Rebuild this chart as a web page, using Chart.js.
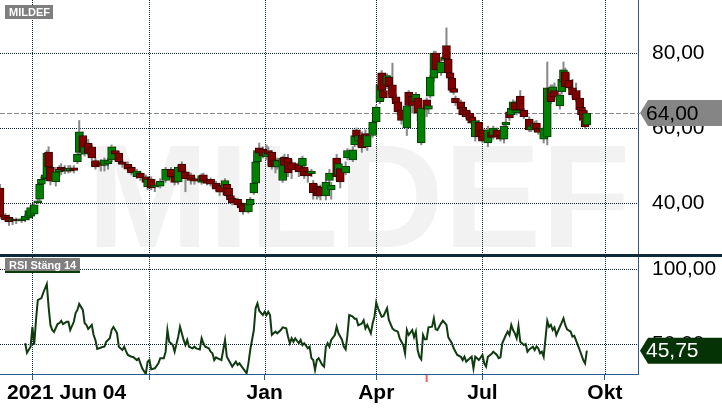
<!DOCTYPE html>
<html>
<head>
<meta charset="utf-8">
<script src="https://cdn.jsdelivr.net/npm/chart.js@4.4.1/dist/chart.umd.min.js"></script>
<style>
  html, body { margin: 0; padding: 0; background: #fff; }
  #wrap { position: relative; width: 722px; height: 410px; overflow: hidden; background: #fff; }
  #priceChart { position: absolute; left: 0; top: 0; }
  #sep { position: absolute; left: 0; top: 254px; width: 722px; height: 3px; background: #0b2a3a; }
  #rsiChart { position: absolute; left: 0; top: 257px; }
</style>
</head>
<body>
<div id="wrap">
  <canvas id="priceChart" width="722" height="254"></canvas>
  <div id="sep"></div>
  <canvas id="rsiChart" width="722" height="153"></canvas>
</div>
<script>
// Kurs (dagliga candles), x = handelsdag sedan 2021-06-04
const ticker = 'MILDEF';
const startLabel = '2021 Jun 04';
const candleIdx = [0,3,5,7,9,12,14,16,17,19,21,22,23,25,26,27,28,31,33,34,36,38,39,41,43,44,46,47,49,51,53,56,58,60,62,64,66,68,71,73,76,78,81,82,84,86,89,92,95,97,99,101,103,106,108,112,113,115,117,120,122,125,126,127,128,129,132,134,135,138,139,141,142,143,144,146,148,149,151,153,154,157,158,160,162,166,168,169,171,173,174,176,177,178,181,183,184,187,188,189,192,193,196,197,198,199,201,203,204,207,209,211,212,213,215,216,218,220,221,223,226,227,229,231,232,234,237,238,239,241,242,245,247,248,249,250,251,252,253,256,257,259,261,262,264,266,268,271,273,274,276,278,280,281,283,284,285,286,287,289,291,294,295,297,298,299,302,304,306,307,308,311,312,313,314,316,318,320,322,323,324,325,326];
const openV = [44,36.8,36.2,35.2,35.6,35.2,35.5,36,36.5,37,40,41,45,46.5,46.7,53.6,49.6,45.6,48.3,49.5,49.3,48.5,48.6,49.4,51,53.5,58,53,56,55,51.3,50.8,50,50.5,51.5,54,53.3,51,50.3,49.5,47,48,47,44.3,46.4,44.2,44.5,46,49,47,45.6,50.4,48.3,47.5,46.5,45.5,47.5,46.2,46.3,45.3,44.8,44,45,44,42,41.3,41,40,39.5,37.6,39.5,42.7,45.3,51,54.7,54.3,52.3,54,53.6,51.5,49.6,46,52.2,52,50.8,50.5,49.9,49.6,48.5,47.8,45.3,44.5,44,44.2,41.9,46,43.5,52,47.5,49.2,48,52,51.5,55.5,59.5,56.5,58,58.5,55,58,61.6,67,74.7,70,71.5,73.5,71.5,68.3,67,64.8,60,69.6,68.5,67,68,56,67.5,65,68.5,73.3,80,74.7,78,82,78.4,74.7,73.3,70.5,68,67,65.5,64.8,64,63,57.6,61.5,59.5,56,59,58,59.5,58,57,60.8,64.3,63.5,64.8,66.8,64,68.5,64.8,62.4,59.5,60,61.3,60,57,57.6,70.7,69.3,70,65.9,69.6,72.3,75,72.8,70.7,70,68,65.5,64.8,62,60.8];
const highV = [45,37.2,36.8,36,36,36.2,37,38.5,39.5,40,41,45.5,47,49,54,55,50.5,49.5,50,50.5,50,50,50,50,54,62,59,56,57,55.5,52,51.5,52,52,55.5,55,53.8,51.5,51,50,49,48.5,47.5,47,47,45.3,46.5,49.5,49.5,47.5,50,51,48.8,48,47,47.8,48,46.5,46.7,45.8,45.2,46.5,45.5,44.5,42.3,41.7,41.3,40.3,40,40.5,41.5,45.8,51.5,54.5,56,55,55.5,55,54,52,52,52.5,53,53,51.5,51,52.5,50,49,49,46,45,44.5,44.8,46,49,45.5,53,52,50,51,54.5,55,58.5,60,59,59,59.5,58.5,62,66,72,75.3,70.5,74.5,74,77.3,69,67.5,65.3,66.5,70,69,69.5,68.5,66,68,66.5,74,80.5,80.5,78.5,79.5,86.7,79,75.2,73.8,71,68.5,67.5,66,65,64.5,63.5,62.5,62,60,60.5,59.5,60.5,60,58.5,61,62.5,65,65.8,67.5,67.2,65.2,70,65.2,63,61,61.8,62,60.3,60.5,77.6,71.5,71.5,72,69.2,75.5,77.6,76,74.5,73,72,70,66,65.3,62.5,64.5];
const lowV = [35.8,35,34,34.2,34.5,34.8,35,35.5,36,36.5,39.8,40.5,44.5,46,46,49,44.8,44.5,47,47.5,47.8,48,48.2,48,50.5,53,53,52.5,52.8,51.5,49,48.5,48.5,49,51,52.5,50.5,49.5,48.5,47.5,46.5,46,45,43.5,43.5,43,44,45.5,46.5,44.8,45,47.8,43,45,45,45,45.5,44.8,44.5,43.3,42,42,41.5,41.5,40,39.5,39,38.3,37,37.3,39,42.3,45,50.5,53,52,51.5,50,49,48,49,45.5,49.5,47,46.5,47,49,46.5,45.5,47,41,41,41.5,40.8,40.8,45.5,41,46,47,44,47.5,51.5,51,55,55.5,55,53.5,55.5,54,57.5,61,66.5,68,67.5,70.5,69,67.5,65.5,63.5,61,58,65.5,64,66,62,55.5,63,64,68,72.5,74.5,74,77.5,77.5,74,72.8,69.5,69,66,64.5,63,62.5,61.5,60.8,56.5,57,56,55,56.5,57,57,56.5,56,60.5,62,63,64,64.5,63.5,64.3,62.5,59,59,59,59,58.3,56,55.5,66.5,68.5,67.5,65,69,72,70,70.2,68,67,64,63,61.5,59.8,60.5];
const closeV = [36.3,35.5,35,35.7,35.2,35.8,36.5,38,38.8,39.5,40.6,45,46.3,47.5,53.3,49.6,45.8,48.3,49,48.8,48.5,49.2,49.3,48.7,53,59,53.6,55,53.3,52,49.6,50,51.5,51.3,55,53,51,50.3,49,48,48.5,46.7,45.5,46.4,44,44.8,45.8,49,47,45.5,49.6,48.3,46.5,46,45.8,47.3,45.8,45.2,45,43.7,42.9,46,42,41.9,40.8,40,39.5,38.7,37.6,40,41,45.3,51,54,53.3,52.5,53.6,53,49.6,49.6,51.3,52,50,48,48.8,48.3,52,47.2,47.2,48.5,42.7,41.9,42.5,41.9,45.6,48,44.8,47,50.5,45.6,49.8,54,54.2,58,57.6,58,54.7,57,58,61.6,65.6,71.5,70,68,74,71,68,66.5,64.3,62,65.9,66,66,69,64,65.3,65,66,73.6,80,75.5,77.6,79,78.4,74.7,73.3,70,69.5,66.7,65,63.5,63,62,61.3,62,57.6,56.5,59.5,57.5,60,57.6,57,60.5,61.6,62.7,65.3,67,64.8,64.8,64.8,63,59.5,60.5,61.3,59.5,58.8,60,70.7,67,71,68.2,68.8,73,75.5,71,70.7,68.8,67.5,64.8,63.5,62,60.3,64];

// RSI (Stäng, 14)
const rsiIdx = [14,15,17,18,19,20,21,23,24,26,27,28,29,30,32,33,34,35,37,38,39,41,42,43,44,46,47,48,49,51,52,53,54,57,58,59,61,62,63,65,66,68,69,70,71,73,74,76,77,78,79,81,82,83,84,86,88,89,91,92,93,94,96,97,99,100,102,103,104,105,107,108,109,111,112,113,114,116,117,118,119,120,121,123,124,125,126,128,129,131,132,133,135,137,138,139,141,142,143,144,146,147,148,149,150,151,152,153,154,156,157,159,160,161,162,163,164,166,167,168,169,171,172,173,174,175,176,177,179,180,181,182,183,184,186,187,188,190,191,192,193,194,196,197,198,199,201,202,203,204,206,207,208,209,210,212,213,215,216,218,219,221,222,223,224,225,226,227,229,230,231,232,233,234,235,236,237,238,240,241,242,243,245,246,248,249,251,252,254,256,257,258,259,261,262,263,264,265,266,268,269,270,271,273,274,276,277,278,279,281,282,283,284,285,286,287,288,289,291,292,293,294,296,297,298,299,300,301,302,304,305,306,307,308,309,311,312,313,314,315,317,318,319,321,322,323,324,325,326];
const rsiV = [50.7,44.4,48.4,61.7,49.5,66.2,79.5,80.8,84.2,90.2,74.9,62.9,59.5,58.2,63.5,64.2,65.7,63.5,65,65,59.5,65,70.8,72.9,76.9,72.9,64.2,62.9,60.2,62.9,56.2,52.9,46.9,48.2,48.4,51.7,54.1,59.5,61.5,57.5,48.4,46.2,48.4,45.5,42.9,41.7,41.5,39.5,40.6,37.3,34,30.2,38.4,39.5,33.3,34,37.3,40.7,40.7,45.1,59.5,51.7,49.5,45.1,55.1,61.7,52.9,49.5,52.9,48.4,47.3,48.4,47.3,46.6,54,50.7,48.4,47.3,45.1,44,39.5,41.3,40.6,39.5,46.2,52.9,41.7,37.3,35.1,38.4,36.2,37.3,34,30.7,37.3,46.2,59.5,74,77.3,72.4,69.5,71.7,69.5,71.7,69.5,56.2,57.3,58.4,57.3,59.5,61.3,60.6,55,50.7,54,51.7,54,50.7,52.9,49.5,50.7,47.3,48.4,40.7,39.5,32.9,39.5,40.7,36.2,35.1,48.4,50.7,48.4,52.9,56.2,61.7,57.3,52.9,48.4,46.6,56.2,69.5,68.4,67.1,67.1,62.7,63.8,66,60.6,62.9,57.3,64,68.4,77.8,74,68.4,68.8,74,66.2,60.6,59.5,58.4,54,51.7,49.5,44,59.5,56.2,59.5,54.7,58.4,46.2,41.7,40,56.2,53.3,53.3,61.3,61.7,67.3,60,59.5,64,65.7,62.9,54.7,50.7,47.3,42.9,41.7,39.5,41.7,38.4,40.7,41.7,34,41.7,40.7,39.5,42.9,37.3,35.1,41.7,43.5,45.1,42.9,40.7,41.3,50.7,56.2,58.4,56.2,62.9,59.5,57.3,54,62.2,51.7,49.5,50.2,45.1,46.6,48.4,46.2,48.6,47.3,44,45.1,41.7,65.7,61.7,62.9,59.5,61.3,56.2,61.7,64.4,67.3,62.9,60,58.4,55.1,55.6,49.5,46.2,42.9,39.5,37.3,45.75];

// Axlar
const tickIdx = [18, 83, 147, 209, 268, 336];
const tickLbl = ['', '', 'Jan', 'Apr', 'Jul', 'Okt'];
const priceTicks = [40, 60, 80];
const rsiTicks = [50, 100];
const eventIdx = [237];

const FONT = "'Liberation Sans', Arial, sans-serif";
const AXIS_BLUE = '#2b5c8a';
const GRID = '#082433';
const X_MIN = 0;
const X_MAX = 354.4;

Chart.defaults.font.family = FONT;
Chart.defaults.animation = false;

function fmt(v) {
    return v.toFixed(2).replace('.', ',');
}

function xScale(showLabels) {
    return {
        type: 'linear',
        min: X_MIN,
        max: X_MAX,
        offset: false,
        grid: { drawOnChartArea: false, offset: false, drawTicks: showLabels, tickLength: 6, tickColor: AXIS_BLUE },
        border: { display: showLabels, color: AXIS_BLUE },
        ticks: {
            display: showLabels,
            autoSkip: false,
            maxRotation: 0,
            padding: 1,
            color: '#000',
            font: { family: FONT, size: 21, weight: 'bold' },
            callback: (v) => {
                const k = tickIdx.indexOf(v);
                return k >= 0 ? tickLbl[k] : '';
            }
        },
        afterBuildTicks: (s) => { s.ticks = tickIdx.map(v => ({ value: v })); },
        afterFit: (s) => { s.height = showLabels ? 36 : 0; s.paddingLeft = 0; s.paddingRight = 0; }
    };
}

function yScale(min, max, ticks) {
    return {
        position: 'right',
        min: min,
        max: max,
        grid: { drawOnChartArea: false, drawTicks: false },
        border: { display: true, color: AXIS_BLUE },
        ticks: { padding: 14, color: '#000', font: { family: FONT, size: 21 }, callback: (v) => fmt(v) },
        afterBuildTicks: (s) => { s.ticks = ticks.map(v => ({ value: v })); },
        afterFit: (s) => { s.width = 84; s.paddingTop = 0; s.paddingBottom = 0; }
    };
}

// Prickade stödlinjer, ritade på hela pixlar
const dottedGrid = {
    id: 'dottedGrid',
    beforeDatasetsDraw(chart) {
        const { ctx, chartArea: a, scales } = chart;
        ctx.save();
        ctx.strokeStyle = GRID;
        ctx.lineWidth = 1;
        ctx.setLineDash([1, 1]);
        ctx.beginPath();
        scales.x.ticks.forEach(t => {
            const px = Math.round(scales.x.getPixelForValue(t.value)) + 0.5;
            ctx.moveTo(px, a.top);
            ctx.lineTo(px, a.bottom);
        });
        scales.y.ticks.forEach(t => {
            const py = Math.round(scales.y.getPixelForValue(t.value)) + 0.5;
            ctx.moveTo(a.left, py);
            ctx.lineTo(a.right, py);
        });
        ctx.stroke();
        ctx.restore();
    }
};

// Etikett med pil till vänster (senaste värde)
function drawTag(ctx, x, y, bg, fg, text) {
    ctx.save();
    ctx.fillStyle = bg;
    ctx.beginPath();
    ctx.moveTo(x, y);
    ctx.lineTo(x + 8, y - 13);
    ctx.lineTo(722, y - 13);
    ctx.lineTo(722, y + 13);
    ctx.lineTo(x + 8, y + 13);
    ctx.closePath();
    ctx.fill();
    ctx.fillStyle = fg;
    ctx.font = '21px ' + FONT;
    ctx.textBaseline = 'middle';
    ctx.textAlign = 'left';
    ctx.fillText(text, x + 6, y + 1);
    ctx.restore();
}

function drawBoxLabel(ctx, x, y, w, text, stripe) {
    ctx.save();
    ctx.fillStyle = '#7f7f7f';
    ctx.fillRect(x, y, w, 14);
    if (stripe) {
        ctx.fillStyle = stripe;
        ctx.fillRect(x, y + 13, w, 2);
    }
    ctx.fillStyle = '#fff';
    ctx.font = 'bold 11px ' + FONT;
    ctx.textBaseline = 'middle';
    ctx.fillText(text, x + 4, y + 7.5);
    ctx.restore();
}

const lastClose = closeV[closeV.length - 1];
const lastRsi = rsiV[rsiV.length - 1];

const priceDecor = {
    id: 'priceDecor',
    beforeDraw(chart) {
        const { ctx, chartArea: a } = chart;
        ctx.save();
        ctx.beginPath();
        ctx.rect(a.left, a.top, a.right - a.left, a.bottom - a.top);
        ctx.clip();
        ctx.fillStyle = '#f2f2f2';
        ctx.font = 'bold 146px ' + FONT;
        ctx.textBaseline = 'alphabetic';
        ctx.fillText(ticker, a.left + 87, a.top + 247);
        ctx.restore();
    },
    beforeDatasetsDraw(chart) {
        const { ctx, chartArea: a } = chart;
        const y = Math.round(chart.scales.y.getPixelForValue(lastClose)) + 0.5;
        ctx.save();
        ctx.strokeStyle = '#8a8a8a';
        ctx.lineWidth = 1;
        ctx.setLineDash([5, 2]);
        ctx.beginPath();
        ctx.moveTo(a.left, y);
        ctx.lineTo(a.right + 2, y);
        ctx.stroke();
        ctx.restore();
    },
    afterDraw(chart) {
        const ctx = chart.ctx;
        drawBoxLabel(ctx, 5, 5, 48, ticker, null);
        drawTag(ctx, chart.chartArea.right + 2, chart.scales.y.getPixelForValue(lastClose), '#858585', '#000', fmt(lastClose));
    }
};

const rsiDecor = {
    id: 'rsiDecor',
    afterDraw(chart) {
        const ctx = chart.ctx;
        const xs = chart.scales.x;
        drawBoxLabel(ctx, 5, 1, 75, 'RSI Stäng 14', '#0b3d0b');
        drawTag(ctx, chart.chartArea.right + 2, chart.scales.y.getPixelForValue(lastRsi), '#053305', '#fff', fmt(lastRsi));

        // händelsemarkering på tidsaxeln
        ctx.save();
        ctx.strokeStyle = '#ff5a5a';
        ctx.lineWidth = 2;
        eventIdx.forEach(v => {
            const px = xs.getPixelForValue(v);
            ctx.beginPath();
            ctx.moveTo(px, xs.top + 1);
            ctx.lineTo(px, xs.top + 8);
            ctx.stroke();
        });
        ctx.restore();

        // startdatum längst till vänster, samma höjd som övriga tidsetiketter
        const item = xs.getLabelItems().find(i => i.label);
        ctx.save();
        ctx.fillStyle = '#000';
        ctx.font = 'bold 21px ' + FONT;
        ctx.textAlign = 'left';
        if (item) {
            ctx.textBaseline = item.options.textBaseline;
            ctx.fillText(startLabel, 7, item.options.translation[1] + (item.textOffset || 0));
        } else {
            ctx.textBaseline = 'top';
            ctx.fillText(startLabel, 7, xs.top + 8);
        }
        ctx.restore();
    }
};

const up = candleIdx.map((x, k) => closeV[k] >= openV[k]);

new Chart(document.getElementById('priceChart'), {
    type: 'bar',
    data: {
        datasets: [
            {
                data: candleIdx.map((x, k) => ({ x: x, y: [lowV[k], highV[k]] })),
                backgroundColor: '#8a8a8a',
                barThickness: 1.4,
                grouped: false,
                order: 2
            },
            {
                data: candleIdx.map((x, k) => ({ x: x, y: [openV[k], closeV[k]] })),
                backgroundColor: up.map(u => u ? '#008000' : '#800000'),
                borderColor: up.map(u => u ? '#063806' : '#3a0000'),
                borderWidth: 1,
                borderSkipped: false,
                barThickness: 8,
                grouped: false,
                order: 1
            }
        ]
    },
    options: {
        responsive: false,
        devicePixelRatio: 1,
        events: [],
        layout: { padding: 0 },
        plugins: { legend: { display: false }, tooltip: { enabled: false } },
        scales: {
            x: xScale(false),
            y: yScale(26.4, 94.13, priceTicks)
        }
    },
    plugins: [dottedGrid, priceDecor]
});

new Chart(document.getElementById('rsiChart'), {
    type: 'line',
    data: {
        datasets: [{
            data: rsiIdx.map((x, k) => ({ x: x, y: rsiV[k] })),
            borderColor: '#103a10',
            borderWidth: 2,
            pointRadius: 0,
            tension: 0
        }]
    },
    options: {
        responsive: false,
        devicePixelRatio: 1,
        events: [],
        layout: { padding: 0 },
        plugins: { legend: { display: false }, tooltip: { enabled: false } },
        scales: {
            x: xScale(true),
            y: yScale(30.2, 108.2, rsiTicks)
        }
    },
    plugins: [dottedGrid, rsiDecor]
});
</script>
</body>
</html>
